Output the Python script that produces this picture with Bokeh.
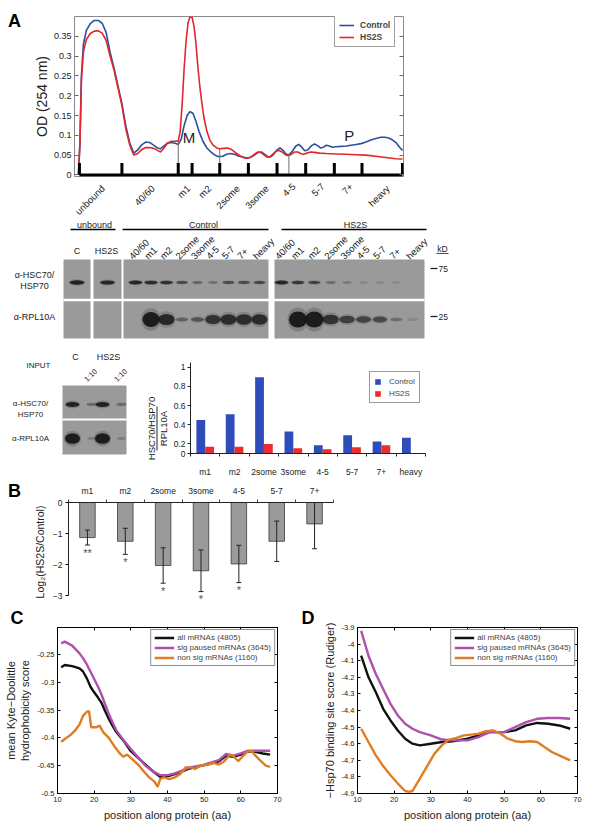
import math
from bokeh.plotting import figure
from bokeh.models import (Range1d, FixedTicker, LinearAxis, Label, Legend, LegendItem,
                          CustomJSTickFormatter, Title)
from bokeh.layouts import column, row
from bokeh.embed import file_html
from bokeh.resources import INLINE
from bokeh.core.properties import value

FONT = "Liberation Sans"

# ---------------- Panel A: OD254 gradient traces (x = gradient position, a.u.) ----------------
ctrl_x = [4, 5.5, 7, 9, 12, 16, 20, 24, 28, 32, 36, 40, 44, 48, 52, 56, 60, 64, 68, 72,
          76, 80, 84, 87, 90, 94, 98, 102, 105, 108, 111, 114, 117, 120, 123, 126, 130, 134, 138, 142,
          146, 150, 154, 158, 162, 166, 170, 174, 178, 182, 186, 189, 192, 195, 198, 201, 205, 208, 211, 214,
          217, 220, 224, 227, 230, 233, 236, 240, 243, 246, 249, 252, 255, 258, 261, 265, 270, 275, 280, 285,
          290, 295, 300, 305, 310, 314, 318, 322, 326, 329, 332]
ctrl_od = [0.0, 0.08, 0.25, 0.33, 0.365, 0.382, 0.39, 0.39, 0.383, 0.36, 0.31, 0.27, 0.225, 0.18, 0.123, 0.08, 0.055, 0.063, 0.076, 0.083,
           0.082, 0.075, 0.068, 0.066, 0.072, 0.08, 0.082, 0.08, 0.077, 0.09, 0.125, 0.15, 0.16, 0.155, 0.135, 0.11, 0.085, 0.068, 0.058, 0.05,
           0.046, 0.047, 0.052, 0.054, 0.052, 0.048, 0.045, 0.043, 0.044, 0.05, 0.057, 0.058, 0.053, 0.047, 0.045, 0.05, 0.063, 0.068, 0.062, 0.053,
           0.051, 0.058, 0.073, 0.077, 0.07, 0.061, 0.063, 0.074, 0.078, 0.074, 0.068, 0.07, 0.075, 0.073, 0.07, 0.071, 0.072, 0.073, 0.075, 0.077,
           0.079, 0.083, 0.088, 0.092, 0.095, 0.095, 0.093, 0.088, 0.08, 0.07, 0.062]
hs2s_x = [4, 5.5, 7, 9, 12, 16, 20, 24, 28, 32, 36, 40, 44, 48, 52, 56, 60, 64, 68, 72,
          76, 80, 84, 87, 90, 94, 98, 102, 105, 107, 109, 111, 113, 115, 117, 119, 121, 123, 125, 127,
          129, 131, 134, 137, 140, 144, 147, 151, 155, 159, 163, 167, 171, 175, 179, 183, 186, 189, 192, 195,
          198, 201, 204, 207, 210, 214, 217, 220, 223, 226, 229, 232, 235, 239, 243, 248, 255, 265, 275, 285,
          295, 305, 315, 325, 332]
hs2s_od = [0.0, 0.08, 0.24, 0.31, 0.342, 0.357, 0.363, 0.364, 0.358, 0.34, 0.3, 0.265, 0.22, 0.175, 0.115, 0.075, 0.05, 0.054, 0.064, 0.069,
           0.069, 0.067, 0.062, 0.058, 0.066, 0.08, 0.085, 0.085, 0.086, 0.11, 0.18, 0.27, 0.34, 0.385, 0.4, 0.398, 0.375, 0.33, 0.27, 0.22,
           0.18, 0.145, 0.11, 0.088, 0.076, 0.068, 0.066, 0.067, 0.068, 0.064, 0.056, 0.049, 0.044, 0.042, 0.046, 0.054, 0.058, 0.056, 0.05, 0.045,
           0.046, 0.053, 0.06, 0.062, 0.058, 0.05, 0.049, 0.053, 0.058, 0.058, 0.054, 0.052, 0.055, 0.058, 0.057, 0.055, 0.054, 0.053, 0.052, 0.051,
           0.05, 0.047, 0.044, 0.041, 0.04]
fraction_names = ["unbound", "40/60", "m1", "m2", "2some", "3some", "4-5", "5-7", "7+", "heavy"]
fraction_edges = [5, 48, 105, 119, 147, 176, 205, 234, 263, 291, 332]
region_marks = [105, 147, 217]
region_mark_od = [0.086, 0.066, 0.052]
od_ticks = [0, 0.05, 0.1, 0.15, 0.2, 0.25, 0.3, 0.35]

# ---------------- Western blots (band intensity 0..1) ----------------
blot_lanes = ["40/60", "m1", "m2", "2some", "3some", "4-5", "5-7", "7+", "heavy"]
unbound_lanes = ["C", "HS2S"]
hsc_unbound = [0.95, 0.9]
hsc_ctrl = [0.9, 0.85, 0.8, 0.6, 0.4, 0.3, 0.6, 0.6, 0.65]
hsc_hs2s = [0.9, 0.75, 0.7, 0.35, 0.25, 0.15, 0.15, 0.12, 0.0]
rpl_ctrl = [0.0, 1.0, 0.88, 0.4, 0.5, 0.8, 0.85, 0.85, 0.85]
rpl_hs2s = [0.0, 1.0, 1.0, 0.8, 0.7, 0.65, 0.6, 0.3, 0.12]
input_dil = ["", "1:10", "", "1:10"]
input_hsc = [0.95, 0.35, 0.95, 0.35]
input_rpl = [1.0, 0.2, 1.0, 0.2]

# ---------------- HSC70/HSP70 : RPL10A ratio ----------------
ratio_cats = ["m1", "m2", "2some", "3some", "4-5", "5-7", "7+", "heavy"]
ratio_ctrl = [0.45, 0.51, 0.895, 0.33, 0.185, 0.29, 0.225, 0.265]
ratio_hs2s = [0.17, 0.17, 0.2, 0.155, 0.145, 0.165, 0.185]
ratio_ticks = [0.1, 0.2, 0.4, 0.6, 0.8, 1.0]

# ---------------- Panel B ----------------
b_cats = ["m1", "m2", "2some", "3some", "4-5", "5-7", "7+"]
b_log2 = [-1.13, -1.25, -2.03, -2.2, -1.98, -1.25, -0.69]
b_err = [0.24, 0.42, 0.57, 0.67, 0.6, 0.65, 0.8]
b_sig = ["**", "*", "*", "*", "*", "", ""]

# ---------------- Panel C ----------------
c_x = [11, 12, 14, 16, 17, 18, 19, 20, 21, 22, 23, 24, 25, 26, 28, 30, 32, 34, 36, 38,
       40, 42, 44, 46, 48, 50, 52, 54, 56, 58, 60, 62, 64, 66, 68]
c_all = [-0.273, -0.269, -0.271, -0.275, -0.281, -0.293, -0.308, -0.318, -0.327, -0.337, -0.352, -0.366, -0.378, -0.389, -0.405, -0.424, -0.436, -0.448, -0.460, -0.470,
         -0.469, -0.465, -0.460, -0.455, -0.452, -0.449, -0.446, -0.442, -0.432, -0.434, -0.430, -0.424, -0.425, -0.428, -0.430]
c_sig = [-0.230, -0.227, -0.234, -0.248, -0.257, -0.268, -0.281, -0.294, -0.307, -0.322, -0.340, -0.357, -0.372, -0.386, -0.404, -0.420, -0.435, -0.450, -0.460, -0.467,
         -0.467, -0.464, -0.459, -0.453, -0.451, -0.448, -0.444, -0.440, -0.429, -0.432, -0.428, -0.423, -0.423, -0.423, -0.423]
c_non_x = [11, 12, 13.5, 15, 16, 17, 18, 18.6, 19.2, 20.5, 21.5, 22.5, 24, 25.5, 27, 28, 29, 30.5, 32, 33.5,
           35, 36.5, 37.3, 38, 39, 40.5, 42, 43.5, 45, 46.5, 47.5, 49, 51, 52.5, 54, 55.5, 57, 58, 59.3, 60.5,
           62, 63, 64, 65.5, 66.8, 68]
c_non = [-0.407, -0.402, -0.395, -0.385, -0.376, -0.360, -0.353, -0.352, -0.381, -0.381, -0.378, -0.390, -0.400, -0.415, -0.428, -0.434, -0.430, -0.439, -0.448, -0.460,
         -0.471, -0.479, -0.488, -0.474, -0.471, -0.474, -0.471, -0.465, -0.453, -0.453, -0.456, -0.450, -0.448, -0.445, -0.448, -0.442, -0.430, -0.433, -0.442, -0.433,
         -0.424, -0.424, -0.432, -0.442, -0.450, -0.452]
c_yticks = [-0.5, -0.45, -0.4, -0.35, -0.3, -0.25]

# ---------------- Panel D ----------------
d_x = [11, 13, 15, 17, 19, 21, 23, 25, 27, 30, 33, 36, 40, 43, 46, 50, 53, 56, 59, 62, 65, 68]
d_all = [-4.07, -4.20, -4.29, -4.39, -4.46, -4.52, -4.57, -4.60, -4.61, -4.60, -4.59, -4.585, -4.57, -4.55, -4.53, -4.53, -4.52, -4.49, -4.475, -4.48, -4.49, -4.51]
d_sig = [-3.92, -4.07, -4.18, -4.27, -4.36, -4.43, -4.48, -4.51, -4.53, -4.55, -4.575, -4.58, -4.58, -4.56, -4.53, -4.53, -4.50, -4.47, -4.45, -4.445, -4.445, -4.45]
d_non_x = [11, 13, 15, 17, 19, 21, 23, 24, 25, 27, 29, 31, 33, 35, 37, 39, 41, 43, 45, 47,
           49, 51, 53, 55, 57, 59, 61, 63, 65, 68]
d_non = [-4.51, -4.59, -4.67, -4.735, -4.79, -4.84, -4.885, -4.89, -4.885, -4.81, -4.735, -4.66, -4.61, -4.575, -4.565, -4.55, -4.545, -4.54, -4.525, -4.52,
         -4.54, -4.57, -4.585, -4.59, -4.585, -4.59, -4.62, -4.65, -4.67, -4.70]
d_yticks = [-4.9, -4.8, -4.7, -4.6, -4.5, -4.4, -4.3, -4.2, -4.1, -4.0, -3.9]
cd_xticks = [10, 20, 30, 40, 50, 60, 70]
series_names = ["all mRNAs (4805)", "sig paused mRNAs (3645)", "non sig mRNAs (1160)"]

# ---------------- styles ----------------
BLUE_A, RED_A = "#2c4f9e", "#e3262c"
BLUE_B, RED_B = "#2f4db8", "#ec2c2c"
BLACK_L, PINK_L, ORANGE_L = "#111111", "#b04fae", "#e07d22"
BLOT_BG = "#9a9a9a"
TXT = "#222222"
NUMFMT = "return String(parseFloat(tick.toFixed(3)))"


def blank_fmt():
    return CustomJSTickFormatter(code="return ''")


def canvas(w, h, x0, y0):
    p = figure(width=w, height=h, x_range=Range1d(x0, x0 + w), y_range=Range1d(y0 + h, y0),
               x_axis_location=None, y_axis_location=None, output_backend="svg",
               toolbar_location=None, min_border=0, frame_align=False)
    p.grid.visible = False
    p.outline_line_color = None
    return p


def txt(p, xs, ys, texts, size="8px", align="center", baseline="middle", angle=0.0,
        color=TXT, style="normal"):
    p.text(x=xs, y=ys, text=texts, text_font=value(FONT), text_font_size=size,
           text_align=align, text_baseline=baseline, angle=angle, text_color=color,
           text_font_style=style)


def letter(p, x, y, t):
    txt(p, [x], [y], [t], size="18px", style="bold", color="black")


def bands(p, xs, y, intens, w0, wg, h0, hg, hp=2):
    cx, cy, cw, ch, ca = [], [], [], [], []
    for x, v in zip(xs, intens):
        if v <= 0:
            continue
        w = w0 + wg * v
        h = h0 + hg * v ** hp
        cx += [x, x]
        cy += [y, y]
        cw += [w * 1.15, w]
        ch += [h * 1.5, h]
        ca += [0.2 * v, 0.93 * v]
    p.ellipse(x=cx, y=cy, width=cw, height=ch, fill_color="#141414", fill_alpha=ca, line_color=None)


def style_axis(ax, size="8px"):
    ax.major_label_text_font = FONT
    ax.major_label_text_font_size = size
    ax.major_label_text_color = TXT
    ax.axis_label_text_font = FONT
    ax.axis_label_text_font_style = "normal"
    ax.axis_label_text_color = TXT
    ax.minor_tick_line_color = None


# =============== Row 1: Panel A trace ===============
A_LEFT = 70          # page x of the trace frame's left edge
ROW1_H = 216
cA = canvas(30, ROW1_H, 0, 0)
letter(cA, 14, 20, "A")
pA = figure(width=555, height=182, x_range=Range1d(0, 333), y_range=Range1d(-0.004, 0.4),
            x_axis_location=None, output_backend="svg", toolbar_location=None, frame_align=False,
            min_border_left=A_LEFT - 30, min_border_right=182, min_border_top=16, min_border_bottom=6)
pA.grid.visible = False
pA.outline_line_color = "#8a8a8a"
rc = pA.line(ctrl_x, ctrl_od, line_color=BLUE_A, line_width=1.6)
rh = pA.line(hs2s_x, hs2s_od, line_color=RED_A, line_width=1.6)
pA.segment(x0=region_marks, y0=[0] * len(region_marks), x1=region_marks, y1=region_mark_od,
           line_color="#707070", line_width=1)
ne = len(fraction_edges)
pA.segment(x0=fraction_edges, y0=[0] * ne, x1=fraction_edges, y1=[0.03] * ne,
           line_color="black", line_width=3)
pA.segment(x0=[fraction_edges[0]], y0=[0], x1=[fraction_edges[-1]], y1=[0],
           line_color="black", line_width=3)
ya = pA.yaxis[0]
style_axis(ya, "9px")
ya.ticker = FixedTicker(ticks=od_ticks)
ya.formatter = CustomJSTickFormatter(code=NUMFMT)
ya.axis_line_color = None
ya.major_tick_in = 4
ya.major_tick_out = 0
ya.major_tick_line_color = "#666666"
ya.major_label_standoff = 3
ya.axis_label = "OD (254 nm)"
ya.axis_label_text_font_size = "14px"
ya.axis_label_standoff = 1
pA.add_layout(LinearAxis(ticker=FixedTicker(ticks=od_ticks), formatter=blank_fmt(),
                         axis_line_color=None, major_tick_in=4, major_tick_out=0,
                         major_tick_line_color="#666666", minor_tick_line_color=None,
                         major_label_text_font_size="0px", major_label_standoff=0), "right")
pA.add_layout(Label(x=116, y=0.095, text="M", text_font=FONT, text_font_size="15px",
                    text_align="center", text_baseline="middle", text_color=TXT))
pA.add_layout(Label(x=278, y=0.1, text="P", text_font=FONT, text_font_size="15px",
                    text_align="center", text_baseline="middle", text_color=TXT))
legA = Legend(items=[LegendItem(label="Control", renderers=[rc]),
                     LegendItem(label="HS2S", renderers=[rh])],
              location=(260, 129), label_text_font=FONT, label_text_font_size="8.5px",
              label_text_font_style="bold", glyph_width=15, glyph_height=10, label_height=10,
              label_standoff=6, spacing=2, padding=4, margin=0, border_line_color="#444444",
              background_fill_alpha=1.0)
pA.add_layout(legA)

# fraction labels strip, sharing the trace's x scale (data x = page x - A_LEFT)
stripA = figure(width=555, height=ROW1_H - 182, x_range=Range1d(30 - A_LEFT, 585 - A_LEFT),
                y_range=Range1d(ROW1_H, 182), x_axis_location=None, y_axis_location=None,
                output_backend="svg", toolbar_location=None, min_border=0, frame_align=False)
stripA.grid.visible = False
stripA.outline_line_color = None
mids = [(a + b) / 2 for a, b in zip(fraction_edges[:-1], fraction_edges[1:])]
txt(stripA, [m + 2 for m in mids], [182.5] * len(mids), fraction_names, size="9.5px",
    align="right", baseline="top", angle=math.pi / 4)

# =============== Row 2: blots ===============
ROW2_Y0, ROW2_H = ROW1_H, 345 - ROW1_H
p2 = canvas(585, ROW2_H, 0, ROW2_Y0)
HDR_Y, HDR_LINE_Y = 224, 229
hdr_spans = [(70, 115), (122, 268), (281, 426)]
txt(p2, [94, 203, 355], [HDR_Y] * 3, ["unbound", "Control", "HS2S"], size="9px")
p2.segment(x0=[s[0] for s in hdr_spans], y0=[HDR_LINE_Y] * 3, x1=[s[1] for s in hdr_spans],
           y1=[HDR_LINE_Y] * 3, line_color="black", line_width=1.3)
PAN_TOP, PAN_BOT, PAN_SEP = 259, 338, 299.5
panels = [(63, 90), (93, 121), (123, 268), (274, 424)]
p2.quad(left=[a for a, b in panels], right=[b for a, b in panels], top=[PAN_TOP] * 4,
        bottom=[PAN_BOT] * 4, fill_color=BLOT_BG, line_color=None)
p2.segment(x0=[panels[0][0]], y0=[PAN_SEP], x1=[panels[-1][1]], y1=[PAN_SEP],
           line_color="white", line_width=2.5)
unb_x = [(a + b) / 2 for a, b in panels[:2]]
ctrl_lane_x = [135 + 15.5 * i for i in range(len(blot_lanes))]
hs_lane_x = [281 + 16.4 * i for i in range(len(blot_lanes))]
HSC_Y, RPL_Y = 282, 319
bands(p2, unb_x, HSC_Y, hsc_unbound, 8, 7, 2.5, 2)
bands(p2, ctrl_lane_x, HSC_Y, hsc_ctrl, 7, 7, 2.2, 2)
bands(p2, hs_lane_x, HSC_Y, hsc_hs2s, 7, 7, 2.2, 2)
bands(p2, ctrl_lane_x, RPL_Y, rpl_ctrl, 9, 8, 3, 12, 3)
bands(p2, hs_lane_x, RPL_Y, rpl_hs2s, 9, 9, 3, 13, 3)
txt(p2, [76.5, 106], [250, 250], unbound_lanes, size="9px")
txt(p2, [x - 5 for x in ctrl_lane_x], [257] * 9, blot_lanes, size="9.5px", align="left",
    baseline="middle", angle=math.pi / 4)
txt(p2, [x - 5 for x in hs_lane_x], [257] * 9, blot_lanes, size="9.5px", align="left",
    baseline="middle", angle=math.pi / 4)
txt(p2, [34, 34, 34], [274, 285, 316], ["\u03b1-HSC70/", "HSP70", "\u03b1-RPL10A"], size="9px")
txt(p2, [442], [248], ["kD"], size="8.5px")
p2.segment(x0=[436], y0=[253], x1=[448], y1=[253], line_color=TXT, line_width=0.8)
p2.segment(x0=[430, 430], y0=[268, 316], x1=[437, 437], y1=[268, 316], line_color=TXT, line_width=1.3)
txt(p2, [438, 438], [268, 316], ["75", "25"], size="8.5px", align="left")

# =============== Row 3: input blot + ratio bar chart ===============
p3 = canvas(170, 137, 0, 345)
in_lane_x = [72, 91, 102, 121]
txt(p3, [75, 108], [356, 356], ["C", "HS2S"], size="9px")
txt(p3, [38], [365], ["INPUT"], size="8px")
dil_x = [x - 6 for x, d in zip(in_lane_x, input_dil) if d]
txt(p3, dil_x, [380] * len(dil_x), [d for d in input_dil if d], size="7.5px", align="left",
    angle=math.pi / 4)
p3.quad(left=[62], right=[126], top=[385], bottom=[454], fill_color=BLOT_BG, line_color=None)
p3.segment(x0=[62], y0=[419], x1=[126], y1=[419], line_color="white", line_width=2)
bands(p3, in_lane_x, 404, input_hsc, 7, 7, 2.5, 3)
bands(p3, in_lane_x, 438, input_rpl, 6, 9, 2.5, 8)
txt(p3, [30, 30, 30], [403, 414, 438], ["\u03b1-HSC70/", "HSP70", "\u03b1-RPL10A"], size="8px")
txt(p3, [151], [428], ["HSC70/HSP70"], size="9.5px", angle=math.pi / 2)
p3.segment(x0=[156.5], y0=[406], x1=[156.5], y1=[450], line_color=TXT, line_width=1)
txt(p3, [163], [428], ["RPL10A"], size="9.5px", angle=math.pi / 2)

pR = figure(width=270, height=137, x_range=Range1d(0, len(ratio_cats)), y_range=Range1d(0.1, 1.05),
            output_backend="svg", toolbar_location=None, frame_align=False,
            min_border_left=18, min_border_right=15, min_border_top=17, min_border_bottom=29)
pR.grid.visible = False
pR.outline_line_color = None
r_cx = [i + 0.5 for i in range(len(ratio_cats))]
BW = 0.3
rb1 = pR.vbar(x=[c - BW / 2 for c in r_cx], top=ratio_ctrl, bottom=ratio_ticks[0], width=BW,
              fill_color=BLUE_B, line_color=None)
rb2 = pR.vbar(x=[c + BW / 2 for c in r_cx[:len(ratio_hs2s)]], top=ratio_hs2s, bottom=ratio_ticks[0],
              width=BW, fill_color=RED_B, line_color=None)
ry = pR.yaxis[0]
style_axis(ry, "8.5px")
ry.ticker = FixedTicker(ticks=ratio_ticks)
ry.formatter = CustomJSTickFormatter(code="return tick < 0.15 ? '0' : String(parseFloat(tick.toFixed(2)))")
ry.major_tick_out = 3
ry.major_tick_in = 0
ry.major_label_standoff = 2
ry.axis_line_color = "#222222"
ry.major_tick_line_color = "#222222"
rx = pR.xaxis[0]
style_axis(rx, "8.5px")
rx.ticker = FixedTicker(ticks=r_cx, minor_ticks=list(range(len(ratio_cats) + 1)))
rx.formatter = CustomJSTickFormatter(args=dict(names=ratio_cats), code="return names[index]")
rx.major_tick_line_color = None
rx.minor_tick_line_color = "#222222"
rx.minor_tick_out = 3
rx.minor_tick_in = 0
rx.axis_line_color = "#222222"
rx.major_label_standoff = 7
legR = Legend(items=[LegendItem(label="Control", renderers=[rb1]),
                     LegendItem(label="HS2S", renderers=[rb2])],
              location=(179, 50), label_text_font=FONT, label_text_font_size="8px",
              glyph_width=7, glyph_height=7, label_height=10, label_standoff=8, spacing=2,
              padding=4, margin=0, border_line_color="#333333")
pR.add_layout(legR)

# =============== Row 4: Panel B ===============
cB = canvas(30, 123, 0, 482)
letter(cB, 14, 490, "B")
pB = figure(width=315, height=123, x_range=Range1d(0, len(b_cats)), y_range=Range1d(-3.19, 0),
            x_axis_location="above", output_backend="svg", toolbar_location=None, frame_align=False,
            min_border_left=33, min_border_right=12, min_border_top=18, min_border_bottom=4)
pB.grid.visible = False
pB.outline_line_color = None
b_cx = [i + 0.5 for i in range(len(b_cats))]
pB.vbar(x=b_cx, top=0, bottom=b_log2, width=0.41, fill_color="#9a9a9a", line_color="#3a3a3a",
        line_width=0.8)
b_lo = [v - e for v, e in zip(b_log2, b_err)]
b_hi = [v + e for v, e in zip(b_log2, b_err)]
pB.segment(x0=b_cx, y0=b_lo, x1=b_cx, y1=b_hi, line_color="#222222", line_width=1)
pB.scatter(x=b_cx + b_cx, y=b_lo + b_hi, marker="dash", size=5, line_color="#222222", line_width=1)
pB.text(x=b_cx, y=[v - 0.25 for v in b_lo], text=b_sig, text_font=value(FONT), text_font_size="11px",
        text_align="center", text_baseline="middle", text_color="#555555")
by = pB.yaxis[0]
style_axis(by, "8.5px")
by.ticker = FixedTicker(ticks=[0, -1, -2, -3])
by.bounds = (-3, 0)
by.major_tick_out = 3
by.major_tick_in = 0
by.major_label_standoff = 3
by.axis_line_color = "#222222"
by.axis_label = "Log\u2082(HS2S/Control)"
by.axis_label_text_font_size = "10.5px"
by.axis_label_standoff = 4
bx = pB.xaxis[0]
style_axis(bx, "8.5px")
bx.ticker = FixedTicker(ticks=b_cx, minor_ticks=list(range(len(b_cats) + 1)))
bx.formatter = CustomJSTickFormatter(args=dict(names=b_cats), code="return names[index]")
bx.major_tick_line_color = None
bx.minor_tick_line_color = "#444444"
bx.minor_tick_out = 3
bx.minor_tick_in = 0
bx.axis_line_color = "#222222"
bx.major_label_standoff = 1


# =============== Row 5: Panels C and D ===============
def matlab_panel(width, mbl, mbr, yr, yticks, ylabel, letter_text, letter_offset, series):
    p = figure(width=width, height=219, x_range=Range1d(10, 70), y_range=Range1d(*yr),
               output_backend="svg", toolbar_location=None, frame_align=False,
               min_border_left=mbl, min_border_right=mbr, min_border_top=17, min_border_bottom=31)
    p.grid.visible = False
    p.outline_line_color = "#222222"
    rends = []
    for xs, ys, col in series:
        rends.append(p.line(xs, ys, line_color=col, line_width=2.4))
    yax = p.yaxis[0]
    style_axis(yax, "7.5px")
    yax.ticker = FixedTicker(ticks=yticks)
    yax.formatter = CustomJSTickFormatter(code=NUMFMT)
    yax.major_tick_in = 3
    yax.major_tick_out = 0
    yax.major_label_standoff = 3
    yax.axis_label = ylabel
    yax.axis_label_text_font_size = "11px"
    yax.axis_label_standoff = 3
    xax = p.xaxis[0]
    style_axis(xax, "7.5px")
    xax.ticker = FixedTicker(ticks=cd_xticks)
    xax.major_tick_in = 3
    xax.major_tick_out = 0
    xax.major_label_standoff = 3
    xax.axis_label = "position along protein (aa)"
    xax.axis_label_text_font_size = "11px"
    xax.axis_label_standoff = 4
    p.add_layout(LinearAxis(ticker=FixedTicker(ticks=yticks), formatter=blank_fmt(), major_tick_in=3,
                            major_tick_out=0, minor_tick_line_color=None, major_label_text_font_size="0px",
                            major_label_standoff=0), "right")
    p.add_layout(LinearAxis(ticker=FixedTicker(ticks=cd_xticks), formatter=blank_fmt(), major_tick_in=3,
                            major_tick_out=0, minor_tick_line_color=None, major_label_text_font_size="0px",
                            major_label_standoff=0), "above")
    p.add_layout(Title(text=letter_text, align="left", offset=letter_offset, text_font=FONT,
                       text_font_size="18px", text_font_style="bold", text_color="black",
                       standoff=0), "above")
    leg = Legend(items=[LegendItem(label=n, renderers=[r]) for n, r in zip(series_names, rends)],
                 location="top_right", label_text_font=FONT, label_text_font_size="8px",
                 glyph_width=20, glyph_height=9, label_height=9, label_standoff=3, spacing=1,
                 padding=3, margin=2, border_line_color="#222222")
    p.add_layout(leg)
    return p


pC = matlab_panel(296, 57, 19, (-0.5, -0.2015), c_yticks, "mean Kyte\u2212Doolittle\nhydrophobicity score",
                  "C", -47, [(c_x, c_all, BLACK_L), (c_x, c_sig, PINK_L), (c_non_x, c_non, ORANGE_L)])
pD = matlab_panel(289, 61, 8, (-4.9, -3.9), d_yticks, "\u2212Hsp70 binding site score (Rudiger)",
                  "D", -56, [(d_x, d_all, BLACK_L), (d_x, d_sig, PINK_L), (d_non_x, d_non, ORANGE_L)])

layout = column(row(cA, column(pA, stripA)), p2, row(p3, pR), row(cB, pB), row(pC, pD))
open("out.html", "w").write(file_html(layout, INLINE))
